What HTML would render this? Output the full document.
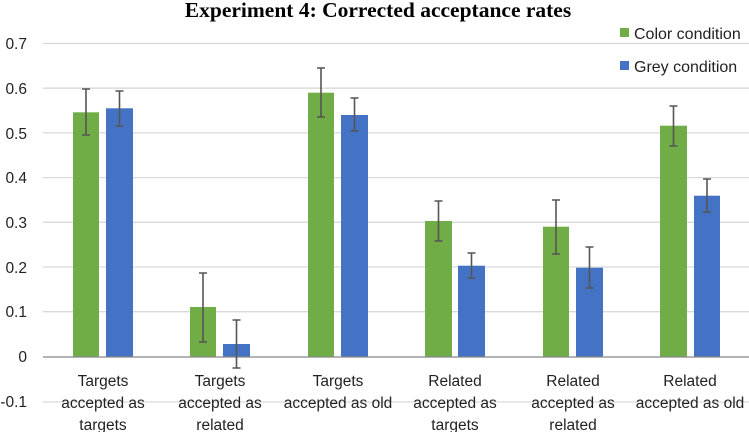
<!DOCTYPE html>
<html><head><meta charset="utf-8"><style>body{margin:0;background:#fff}svg{display:block}</style></head><body>
<svg width="749" height="432" viewBox="0 0 749 432" xmlns="http://www.w3.org/2000/svg" font-family="Liberation Sans, sans-serif">
<rect width="749" height="432" fill="#fff"/>
<text x="378" y="17" text-anchor="middle" font-family="Liberation Serif, serif" font-weight="bold" font-size="21.5">Experiment 4: Corrected acceptance rates</text>
<g stroke="#d9d9d9" stroke-width="1.3">
<line x1="43" x2="749" y1="43.5" y2="43.5"/><line x1="43" x2="749" y1="88.2" y2="88.2"/><line x1="43" x2="749" y1="132.9" y2="132.9"/><line x1="43" x2="749" y1="177.6" y2="177.6"/><line x1="43" x2="749" y1="222.3" y2="222.3"/><line x1="43" x2="749" y1="267" y2="267"/><line x1="43" x2="749" y1="311.7" y2="311.7"/><line x1="43" x2="749" y1="402" y2="402"/>
</g>
<g font-size="15.5" fill="#222" text-anchor="end">
<text x="27" y="49">0.7</text><text x="27" y="94">0.6</text><text x="27" y="139">0.5</text><text x="27" y="183">0.4</text><text x="27" y="228">0.3</text><text x="27" y="273">0.2</text><text x="27" y="317">0.1</text><text x="27" y="362">0</text><text x="27" y="407">-0.1</text>
</g>
<g fill="#70AD47">
<rect x="73" y="112.3" width="26" height="244.7"/><rect x="190" y="307" width="26" height="50"/><rect x="308" y="92.7" width="26" height="264.3"/><rect x="425" y="221" width="27" height="136"/><rect x="543" y="226.7" width="26" height="130.3"/><rect x="660" y="125.7" width="27" height="231.3"/>
</g>
<g fill="#4472C4">
<rect x="106" y="108.3" width="27" height="248.7"/><rect x="223" y="344" width="27" height="13"/><rect x="341" y="115" width="27" height="242"/><rect x="458" y="265.7" width="27" height="91.3"/><rect x="576" y="267.7" width="27" height="89.3"/><rect x="694" y="195.7" width="26" height="161.3"/>
</g>
<line x1="43" x2="749" y1="357" y2="357" stroke="#888" stroke-width="1.3"/>
<g stroke="#555" stroke-width="1.6" fill="none">
<path d="M86 89V135M82 89H90M82 135H90"/>
<path d="M119.5 91V126M115.5 91H123.5M115.5 126H123.5"/>
<path d="M203 273V342M199 273H207M199 342H207"/>
<path d="M236.5 320V368M232.5 320H240.5M232.5 368H240.5"/>
<path d="M321 68V117M317 68H325M317 117H325"/>
<path d="M354.5 98V131M350.5 98H358.5M350.5 131H358.5"/>
<path d="M438.5 201V241M434.5 201H442.5M434.5 241H442.5"/>
<path d="M471.5 253V278M467.5 253H475.5M467.5 278H475.5"/>
<path d="M556 200V254M552 200H560M552 254H560"/>
<path d="M589.5 247V288M585.5 247H593.5M585.5 288H593.5"/>
<path d="M673.5 106V146M669.5 106H677.5M669.5 146H677.5"/>
<path d="M707 179V212M703 179H711M703 212H711"/>
</g>
<g font-size="15.5" fill="#222" text-anchor="middle">
<text x="103" y="386">Targets</text><text x="103" y="408">accepted as</text><text x="103" y="430">targets</text>
<text x="220" y="386">Targets</text><text x="220" y="408">accepted as</text><text x="220" y="430">related</text>
<text x="338" y="386">Targets</text><text x="338" y="408">accepted as old</text>
<text x="455" y="386">Related</text><text x="455" y="408">accepted as</text><text x="455" y="430">targets</text>
<text x="573" y="386">Related</text><text x="573" y="408">accepted as</text><text x="573" y="430">related</text>
<text x="690" y="386">Related</text><text x="690" y="408">accepted as old</text>
</g>
<rect x="620" y="28" width="9" height="9" fill="#70AD47"/>
<text x="634" y="39" font-size="16" fill="#222">Color condition</text>
<rect x="620" y="61" width="9" height="9" fill="#4472C4"/>
<text x="634" y="72" font-size="16" fill="#222">Grey condition</text>
</svg>
</body></html>
